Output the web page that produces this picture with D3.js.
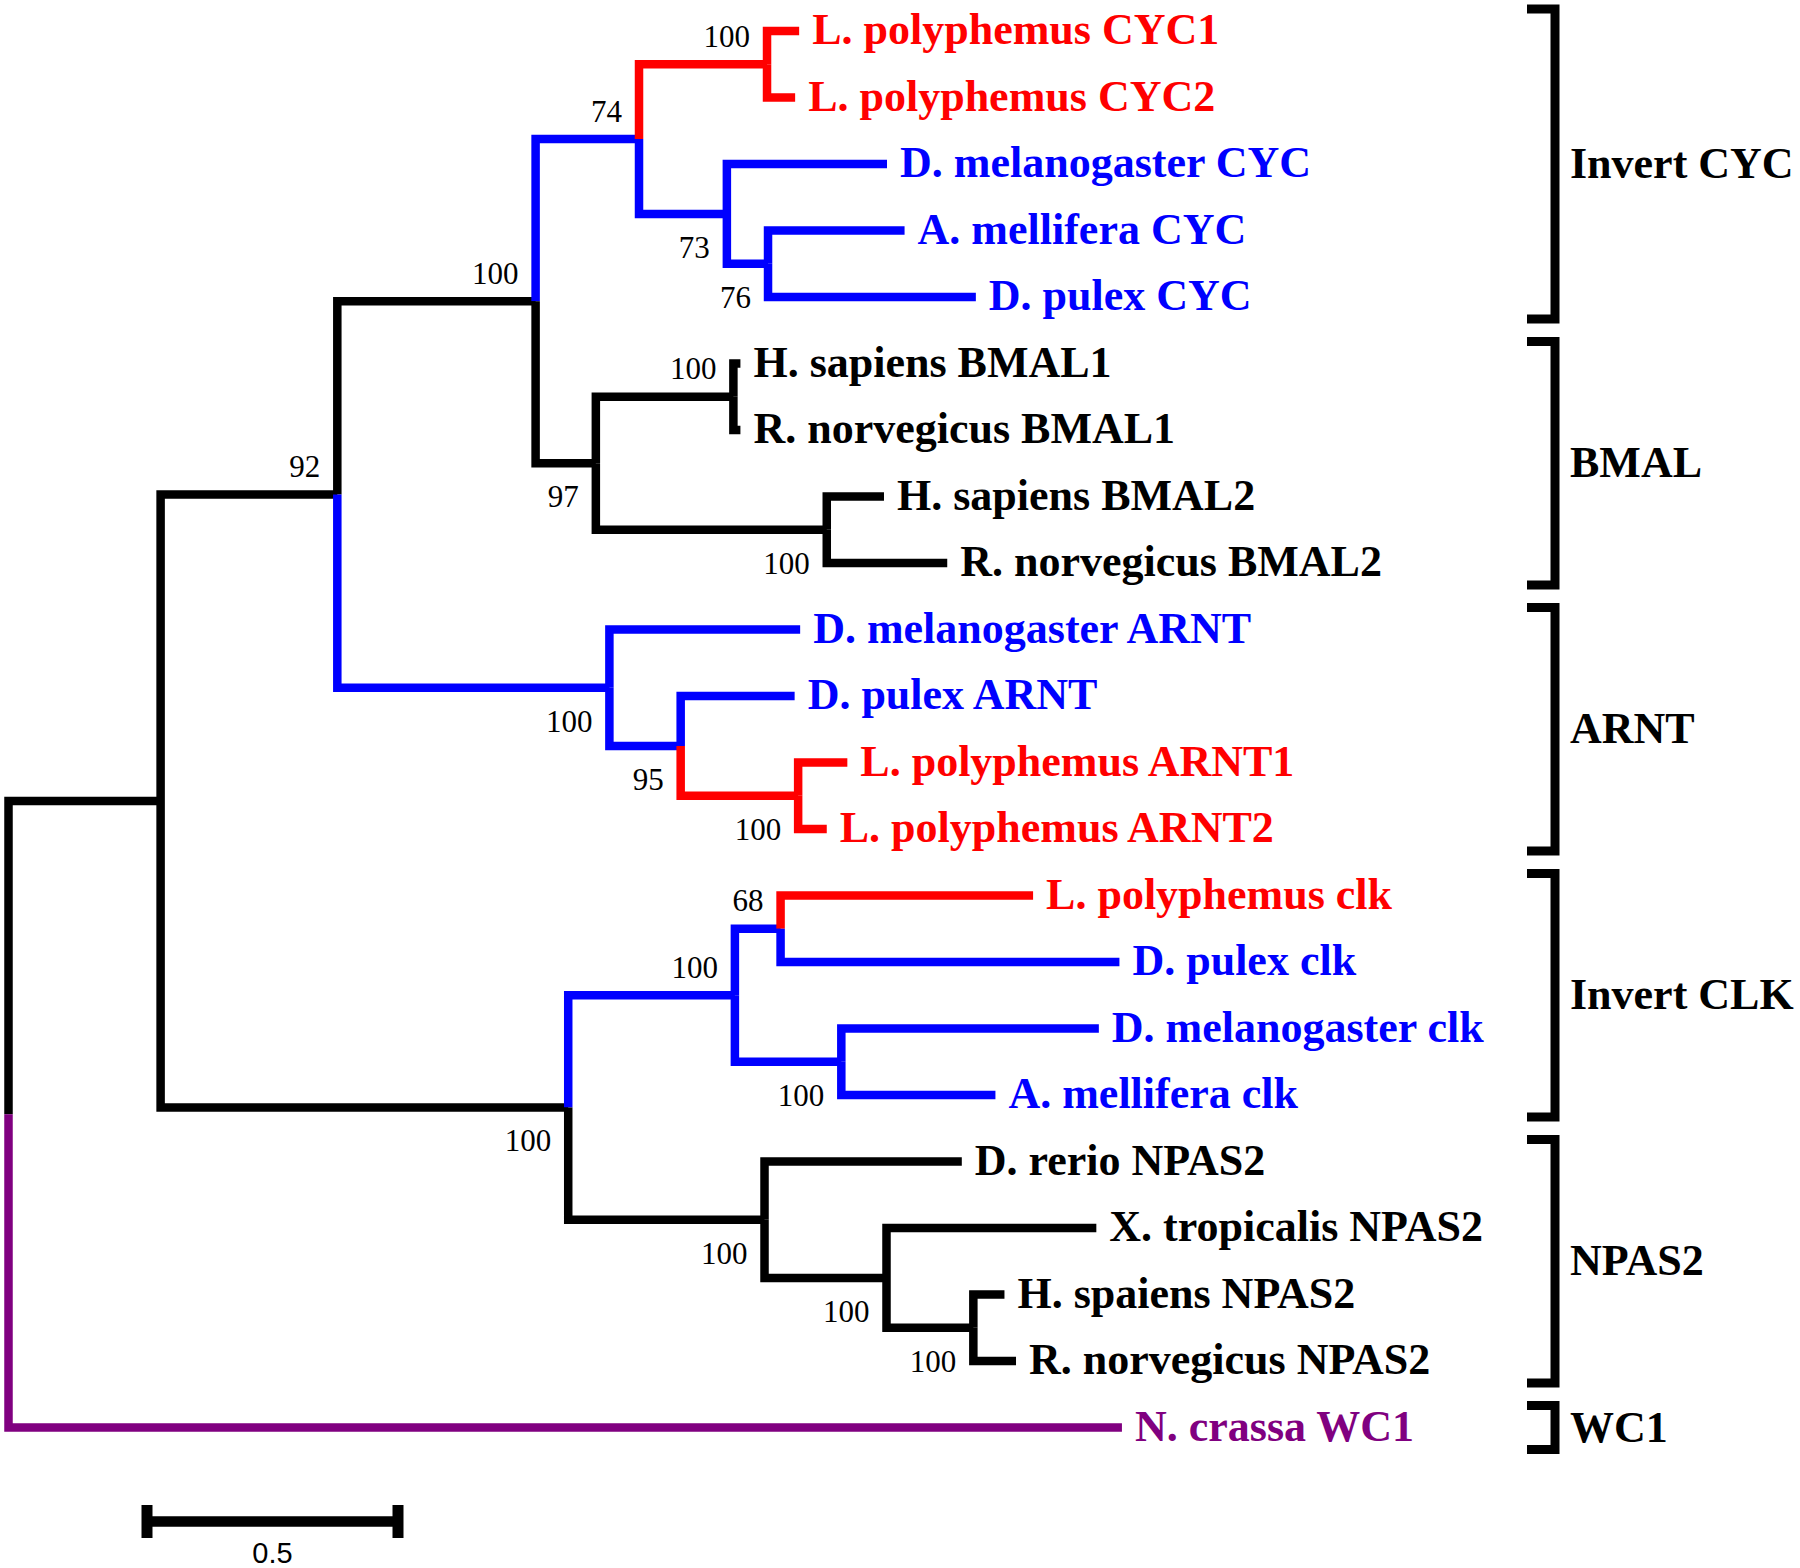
<!DOCTYPE html>
<html><head><meta charset="utf-8">
<script src="https://cdn.jsdelivr.net/npm/d3@7"></script>
<style>body{margin:0;background:#fff}</style>
</head><body><svg id="chart" width="1800" height="1568"></svg>
<script>
// ---- Data ----
// Leaves (top to bottom order)
const leafNames = [
  "L. polyphemus CYC1","L. polyphemus CYC2","D. melanogaster CYC","A. mellifera CYC","D. pulex CYC",
  "H. sapiens BMAL1","R. norvegicus BMAL1","H. sapiens BMAL2","R. norvegicus BMAL2",
  "D. melanogaster ARNT","D. pulex ARNT","L. polyphemus ARNT1","L. polyphemus ARNT2",
  "L. polyphemus clk","D. pulex clk","D. melanogaster clk","A. mellifera clk",
  "D. rerio NPAS2","X. tropicalis NPAS2","H. spaiens NPAS2","R. norvegicus NPAS2",
  "N. crassa WC1"
];
const leafParents = ["E","E","F","G","G","I","I","J","J","K","L","M","M","P","P","Q","Q","R","S","T","T","root"];
const leafBranch  = [0.064,0.056,0.319,0.272,0.414,0.014,0.014,0.114,0.240,0.380,0.227,0.098,0.057,0.503,0.675,0.513,0.307,0.393,0.418,0.062,0.085,2.218];
const leafColors  = ["r","r","b","b","b","k","k","k","k","b","b","r","r","r","b","b","b","k","k","k","k","p"];

// Internal nodes
const nodeIds     = ["root","A","B","C","D","E","F","G","H","I","J","K","L","M","N","O","P","Q","R","S","T"];
const nodeParents = [null,"root","A","B","C","D","D","F","C","H","H","B","K","L","A","N","O","O","N","R","S"];
const nodeBranch  = [0,0.303,0.352,0.395,0.206,0.255,0.175,0.082,0.120,0.274,0.460,0.542,0.142,0.234,0.812,0.332,0.091,0.212,0.391,0.243,0.173];
const nodeColors  = ["k","k","k","k","b","r","b","b","k","k","k","b","b","r","k","b","b","b","k","k","k"];
const nodeSupport = [null,null,92,100,74,100,73,76,97,100,100,100,95,100,100,100,68,100,100,100,100];

// Clades
const cladeNames = ["Invert CYC","BMAL","ARNT","Invert CLK","NPAS2","WC1"];
const cladeFirst = [0,5,9,13,17,21];
const cladeLast  = [4,8,12,16,20,21];

const scaleBarValue = 0.5;

// ---- Build ----
const colorMap = {k:"#000000", r:"#ff0000", b:"#0000ff", p:"#800080"};
const rows = [];
nodeIds.forEach((id,i)=>rows.push({id, parent:nodeParents[i], len:nodeBranch[i], col:nodeColors[i], support:nodeSupport[i], leaf:-1}));
leafNames.forEach((n,i)=>rows.push({id:"leaf"+i, name:n, parent:leafParents[i], len:leafBranch[i], col:leafColors[i], support:null, leaf:i}));

const root = d3.stratify().id(d=>d.id).parentId(d=>d.parent)(rows);

const xScale = d3.scaleLinear().domain([0,1]).range([8.5,510.5]);
const yScale = d3.scaleLinear().domain([0,leafNames.length-1]).range([31,1427.5]);

root.eachBefore(n=>{ n.dist = n.parent ? n.parent.dist + n.data.len : 0; });
root.eachAfter(n=>{ n.yv = n.children ? d3.mean(n.children,c=>c.yv) : yScale(n.data.leaf); });

const svg = d3.select("#chart");
const serif = "'Liberation Serif','Times New Roman',Times,serif";
const sans = "'Liberation Sans',Arial,Helvetica,sans-serif";
const SW = 8.5;

// branches
svg.append("g").selectAll("path").data(root.links()).join("path")
  .attr("d", l=>`M${xScale(l.source.dist)},${l.source.yv}V${l.target.yv}H${xScale(l.target.dist)}`)
  .attr("fill","none")
  .attr("stroke", l=>colorMap[l.target.data.col])
  .attr("stroke-width", SW)
  .attr("stroke-linejoin","miter")
  .attr("stroke-linecap","butt");

// support values
svg.append("g").selectAll("text").data(root.descendants().filter(n=>n.data.support!=null)).join("text")
  .attr("x", n=>xScale(n.dist)-17)
  .attr("y", n=> n.yv < n.parent.yv ? n.yv-17.5 : n.yv+44)
  .attr("text-anchor","end")
  .attr("font-family", serif)
  .attr("font-size", 31)
  .attr("fill","#000")
  .text(n=>n.data.support);

// leaf labels
svg.append("g").selectAll("text").data(root.leaves()).join("text")
  .attr("x", n=>xScale(n.dist)+13)
  .attr("y", n=>n.yv+13)
  .attr("font-family", serif)
  .attr("font-weight","bold")
  .attr("font-size", 44)
  .attr("fill", n=>colorMap[n.data.col])
  .text(n=>n.data.name);

// clade brackets
const cg = svg.append("g");
cladeNames.forEach((name,i)=>{
  const top = yScale(cladeFirst[i]) - 22;
  const bot = yScale(cladeLast[i]) + 22;
  cg.append("path")
    .attr("d", `M1527,${top}H1555V${bot}H1527`)
    .attr("fill","none").attr("stroke","#000").attr("stroke-width",9)
    .attr("stroke-linejoin","miter");
  cg.append("text")
    .attr("x",1570).attr("y",(top+bot)/2+14)
    .attr("font-family", serif).attr("font-weight","bold").attr("font-size",44)
    .attr("fill","#000").text(name);
});

// scale bar
const sbLeft = 147, sbY = 1521.5;
const sbRight = sbLeft + (xScale(scaleBarValue) - xScale(0));
const sb = svg.append("g");
sb.append("line").attr("x1",sbLeft).attr("x2",sbRight).attr("y1",sbY).attr("y2",sbY)
  .attr("stroke","#000").attr("stroke-width",10.5);
[sbLeft, sbRight].forEach(x=>{
  sb.append("line").attr("x1",x).attr("x2",x).attr("y1",1505).attr("y2",1538)
    .attr("stroke","#000").attr("stroke-width",11);
});
sb.append("text").attr("x",(sbLeft+sbRight)/2).attr("y",1563)
  .attr("text-anchor","middle").attr("font-family",sans).attr("font-size",29)
  .attr("fill","#000").text(scaleBarValue);
</script>
</body></html>
